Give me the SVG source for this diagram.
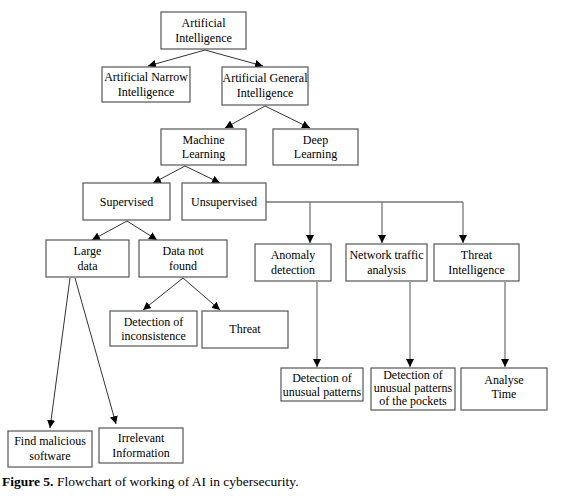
<svg xmlns="http://www.w3.org/2000/svg" width="568" height="498" viewBox="0 0 568 498">
<defs>
<marker id="ah" markerWidth="9" markerHeight="8" refX="8" refY="4" orient="auto" markerUnits="userSpaceOnUse">
<path d="M0,0 L8,4 L0,8 Z" fill="#000"/>
</marker>
</defs>
<rect width="568" height="498" fill="#fff"/>
<g id="connectors" fill="none">
<g stroke="#333" stroke-width="1">
<line x1="205" y1="50" x2="148" y2="66" marker-end="url(#ah)"/>
<line x1="205" y1="50" x2="263" y2="66" marker-end="url(#ah)"/>
<line x1="265" y1="106" x2="225" y2="128" marker-end="url(#ah)"/>
<line x1="265" y1="106" x2="310" y2="128" marker-end="url(#ah)"/>
<line x1="185" y1="166" x2="153" y2="183" marker-end="url(#ah)"/>
<line x1="185" y1="166" x2="220" y2="183" marker-end="url(#ah)"/>
<line x1="127" y1="221" x2="92" y2="240" marker-end="url(#ah)"/>
<line x1="127" y1="221" x2="157" y2="240" marker-end="url(#ah)"/>
<line x1="183" y1="278" x2="143" y2="310" marker-end="url(#ah)"/>
<line x1="183" y1="278" x2="220" y2="310" marker-end="url(#ah)"/>
<line x1="70" y1="278" x2="50" y2="428" marker-end="url(#ah)"/>
<line x1="75" y1="278" x2="116" y2="424" marker-end="url(#ah)"/>
<line x1="266" y1="202" x2="463" y2="202"/>
</g>
<g stroke="#777" stroke-width="1.3">
<line x1="310" y1="202" x2="310" y2="243" marker-end="url(#ah)"/>
<line x1="382" y1="202" x2="382" y2="243" marker-end="url(#ah)"/>
<line x1="463" y1="202" x2="463" y2="243" marker-end="url(#ah)"/>
<line x1="317" y1="282" x2="317" y2="367" marker-end="url(#ah)"/>
<line x1="410" y1="282" x2="410" y2="367" marker-end="url(#ah)"/>
<line x1="505" y1="282" x2="505" y2="367" marker-end="url(#ah)"/>
</g>
</g>
<g fill="#fff" stroke="#555" stroke-width="1.2">
<rect id="r-ai" x="161" y="12" width="85" height="37"/>
<rect id="r-ani" x="102" y="67" width="88" height="35"/>
<rect id="r-agi" x="222" y="67" width="86" height="38"/>
<rect id="r-ml" x="161" y="129" width="85" height="36"/>
<rect id="r-dl" x="273" y="129" width="85" height="36"/>
<rect id="r-sup" x="83" y="183" width="87" height="37"/>
<rect id="r-unsup" x="182" y="183" width="84" height="37"/>
<rect id="r-large" x="46" y="240" width="83" height="37"/>
<rect id="r-dnf" x="139" y="240" width="88" height="37"/>
<rect id="r-anom" x="255" y="244" width="76" height="37"/>
<rect id="r-net" x="346" y="244" width="81" height="37"/>
<rect id="r-ti" x="434" y="244" width="85" height="37"/>
<rect id="r-inc" x="110" y="311" width="87" height="35"/>
<rect id="r-threat" x="202" y="311" width="86" height="37"/>
<rect id="r-dup" x="281" y="368" width="82" height="33"/>
<rect id="r-dupp" x="371" y="368" width="84" height="42"/>
<rect id="r-an" x="461" y="368" width="86" height="42"/>
<rect id="r-fm" x="8" y="431" width="84" height="36"/>
<rect id="r-ir" x="99" y="428" width="84" height="35"/>
</g>
<g id="ai"><text style="font-family:'Liberation Serif'" font-size="12" text-anchor="middle" x="203.5" y="27">Artificial</text><text style="font-family:'Liberation Serif'" font-size="12" text-anchor="middle" x="203.5" y="42">Intelligence</text></g>
<g id="ani"><text style="font-family:'Liberation Serif'" font-size="12" text-anchor="middle" x="146" y="81">Artificial Narrow</text><text style="font-family:'Liberation Serif'" font-size="12" text-anchor="middle" x="146" y="96">Intelligence</text></g>
<g id="agi"><text style="font-family:'Liberation Serif'" font-size="12" text-anchor="middle" x="265" y="82">Artificial General</text><text style="font-family:'Liberation Serif'" font-size="12" text-anchor="middle" x="265" y="97">Intelligence</text></g>
<g id="ml"><text style="font-family:'Liberation Serif'" font-size="12" text-anchor="middle" x="203.5" y="144">Machine</text><text style="font-family:'Liberation Serif'" font-size="12" text-anchor="middle" x="203.5" y="158">Learning</text></g>
<g id="dl"><text style="font-family:'Liberation Serif'" font-size="12" text-anchor="middle" x="315.5" y="144">Deep</text><text style="font-family:'Liberation Serif'" font-size="12" text-anchor="middle" x="315.5" y="158">Learning</text></g>
<g id="sup"><text style="font-family:'Liberation Serif'" font-size="12" text-anchor="middle" x="126.5" y="206">Supervised</text></g>
<g id="unsup"><text style="font-family:'Liberation Serif'" font-size="12" text-anchor="middle" x="224" y="206">Unsupervised</text></g>
<g id="large"><text style="font-family:'Liberation Serif'" font-size="12" text-anchor="middle" x="87.5" y="255">Large</text><text style="font-family:'Liberation Serif'" font-size="12" text-anchor="middle" x="87.5" y="270">data</text></g>
<g id="dnf"><text style="font-family:'Liberation Serif'" font-size="12" text-anchor="middle" x="183" y="255">Data not</text><text style="font-family:'Liberation Serif'" font-size="12" text-anchor="middle" x="183" y="270">found</text></g>
<g id="anom"><text style="font-family:'Liberation Serif'" font-size="12" text-anchor="middle" x="293" y="259">Anomaly</text><text style="font-family:'Liberation Serif'" font-size="12" text-anchor="middle" x="293" y="274">detection</text></g>
<g id="net"><text style="font-family:'Liberation Serif'" font-size="12" text-anchor="middle" x="386.5" y="259">Network traffic</text><text style="font-family:'Liberation Serif'" font-size="12" text-anchor="middle" x="386.5" y="274">analysis</text></g>
<g id="threatint"><text style="font-family:'Liberation Serif'" font-size="12" text-anchor="middle" x="476.5" y="259">Threat</text><text style="font-family:'Liberation Serif'" font-size="12" text-anchor="middle" x="476.5" y="274">Intelligence</text></g>
<g id="incons"><text style="font-family:'Liberation Serif'" font-size="12" text-anchor="middle" x="153.5" y="326">Detection of</text><text style="font-family:'Liberation Serif'" font-size="12" text-anchor="middle" x="153.5" y="340">inconsistence</text></g>
<g id="threat"><text style="font-family:'Liberation Serif'" font-size="12" text-anchor="middle" x="245" y="333">Threat</text></g>
<g id="dup"><text style="font-family:'Liberation Serif'" font-size="12" text-anchor="middle" x="322" y="382">Detection of</text><text style="font-family:'Liberation Serif'" font-size="12" text-anchor="middle" x="322" y="396">unusual patterns</text></g>
<g id="dupp"><text style="font-family:'Liberation Serif'" font-size="12" text-anchor="middle" x="413" y="379">Detection of</text><text style="font-family:'Liberation Serif'" font-size="12" text-anchor="middle" x="413" y="392">unusual patterns</text><text style="font-family:'Liberation Serif'" font-size="12" text-anchor="middle" x="413" y="405">of the pockets</text></g>
<g id="analyse"><text style="font-family:'Liberation Serif'" font-size="12" text-anchor="middle" x="504" y="384">Analyse</text><text style="font-family:'Liberation Serif'" font-size="12" text-anchor="middle" x="504" y="398">Time</text></g>
<g id="findmal"><text style="font-family:'Liberation Serif'" font-size="12" text-anchor="middle" x="50" y="445">Find malicious</text><text style="font-family:'Liberation Serif'" font-size="12" text-anchor="middle" x="50" y="460">software</text></g>
<g id="irrel"><text style="font-family:'Liberation Serif'" font-size="12" text-anchor="middle" x="141" y="442">Irrelevant</text><text style="font-family:'Liberation Serif'" font-size="12" text-anchor="middle" x="141" y="457">Information</text></g>
<text style="font-family:'Liberation Serif'" font-size="13.5" x="2" y="486"><tspan font-weight="bold">Figure 5.</tspan> Flowchart of working of AI in cybersecurity.</text>
</svg>
